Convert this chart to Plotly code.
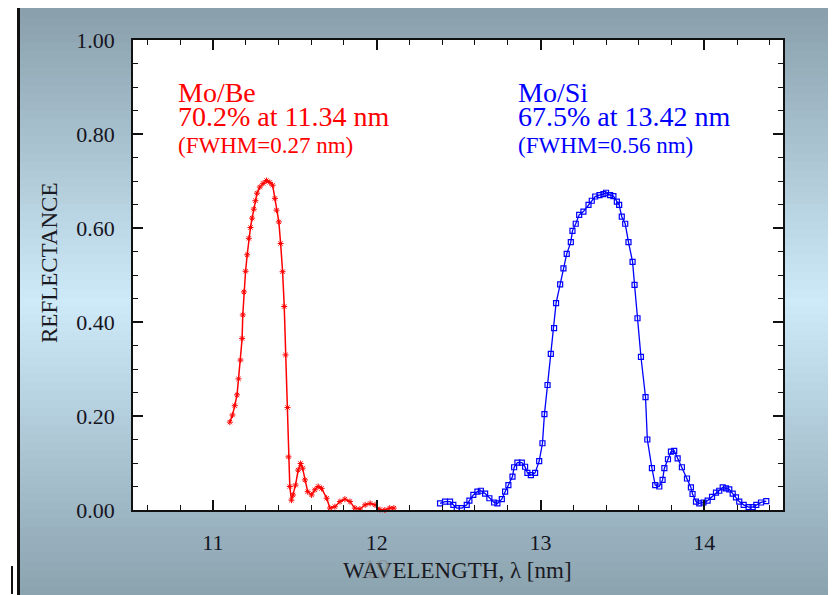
import plotly.graph_objects as go

# ---------------- data ----------------
mobe_wl = [11.104, 11.12, 11.134, 11.148, 11.157, 11.169, 11.179, 11.183, 11.19, 11.20,
           11.21, 11.22, 11.23, 11.24, 11.25, 11.26, 11.27, 11.287, 11.307, 11.328,
           11.348, 11.365, 11.379, 11.389, 11.403, 11.414, 11.426, 11.436, 11.444, 11.456,
           11.462, 11.47, 11.48, 11.49, 11.505, 11.521, 11.536, 11.548, 11.562, 11.579,
           11.603, 11.623, 11.643, 11.664, 11.695, 11.715, 11.745, 11.776, 11.806, 11.837,
           11.867, 11.898, 11.93, 11.96, 11.99, 12.02, 12.05, 12.08, 12.105]
mobe_r = [0.187, 0.202, 0.222, 0.245, 0.279, 0.319, 0.365, 0.415, 0.464, 0.508,
          0.543, 0.578, 0.601, 0.621, 0.640, 0.658, 0.674, 0.687, 0.695, 0.701,
          0.697, 0.691, 0.663, 0.638, 0.613, 0.567, 0.507, 0.433, 0.33, 0.218,
          0.113, 0.05, 0.021, 0.032, 0.053, 0.085, 0.099, 0.089, 0.064, 0.039,
          0.032, 0.043, 0.05, 0.046, 0.025, 0.004, 0.007, 0.018, 0.023, 0.018,
          0.004, 0.002, 0.011, 0.014, 0.011, 0.001, 0.0, 0.004, 0.004]

mosi_wl = [12.387, 12.417, 12.448, 12.468, 12.489, 12.52, 12.55, 12.566, 12.59, 12.615,
           12.636, 12.662, 12.688, 12.717, 12.737, 12.764, 12.784, 12.804, 12.829, 12.839,
           12.859, 12.886, 12.906, 12.92, 12.941, 12.967, 12.992, 13.012, 13.024, 13.043,
           13.063, 13.083, 13.095, 13.12, 13.14, 13.16, 13.185, 13.195, 13.215, 13.236,
           13.262, 13.293, 13.313, 13.334, 13.36, 13.384, 13.40, 13.425, 13.445, 13.466,
           13.48, 13.496, 13.517, 13.537, 13.562, 13.574, 13.592, 13.613, 13.641, 13.652,
           13.68, 13.70, 13.725, 13.745, 13.756, 13.778, 13.796, 13.816, 13.837, 13.863,
           13.894, 13.918, 13.928, 13.949, 13.969, 13.995, 14.02, 14.047, 14.071, 14.091,
           14.112, 14.132, 14.152, 14.173, 14.193, 14.213, 14.24, 14.27, 14.295, 14.317,
           14.346, 14.378]
mosi_r = [0.014, 0.018, 0.018, 0.011, 0.004, 0.004, 0.011, 0.02, 0.032, 0.039,
          0.041, 0.035, 0.025, 0.016, 0.014, 0.023, 0.039, 0.053, 0.071, 0.091,
          0.101, 0.101, 0.092, 0.079, 0.074, 0.079, 0.104, 0.142, 0.204, 0.266,
          0.332, 0.387, 0.44, 0.48, 0.514, 0.545, 0.57, 0.594, 0.609, 0.628,
          0.635, 0.649, 0.658, 0.667, 0.670, 0.672, 0.675, 0.670, 0.668, 0.656,
          0.649, 0.624, 0.609, 0.57, 0.528, 0.479, 0.408, 0.326, 0.24, 0.15,
          0.089, 0.053, 0.05, 0.064, 0.089, 0.108, 0.124, 0.126, 0.110, 0.091,
          0.067, 0.048, 0.034, 0.018, 0.014, 0.016, 0.02, 0.028, 0.037, 0.041,
          0.048, 0.046, 0.044, 0.035, 0.027, 0.018, 0.011, 0.006, 0.006, 0.011,
          0.016, 0.019]

x_ticks = [11, 12, 13, 14]
y_ticks = [0.0, 0.2, 0.4, 0.6, 0.8, 1.0]

mobe_lines = ["Mo/Be", "70.2% at 11.34 nm", "(FWHM=0.27 nm)"]
mosi_lines = ["Mo/Si", "67.5% at 13.42 nm", "(FWHM=0.56 nm)"]

# ---------------- layout geometry (screen pixels) ----------------
SW, SH = 836, 595          # window size
OFF = 8                    # page body margin
W, H = SW - OFF, SH - OFF  # figure size
L, R, T, B = 133, 783, 40, 510   # plot box in screen pixels
pw, ph = R - L, B - T


def px(xp):
    return (xp - L) / pw


def py(yp):
    return (B - yp) / ph


FONT = "Liberation Serif, Times New Roman, serif"
RED = "#ff0000"
BLUE = "#0000ff"

fig = go.Figure()
fig.add_trace(go.Scatter(
    x=mobe_wl, y=mobe_r, mode="lines+markers", name="Mo/Be",
    line=dict(color=RED, width=1.5),
    marker=dict(symbol="asterisk-open", size=5, line=dict(color=RED, width=1)),
    cliponaxis=False, showlegend=False))
fig.add_trace(go.Scatter(
    x=mosi_wl, y=mosi_r, mode="lines+markers", name="Mo/Si",
    line=dict(color=BLUE, width=1.3),
    marker=dict(symbol="square-open", size=5, color=BLUE, line=dict(color=BLUE, width=1.2)),
    cliponaxis=False, showlegend=False))

# ---------------- background gradient ----------------
stops = [(0, (135, 157, 169)), (300, (206, 234, 249)), (595, (139, 162, 175))]


def col_at(yp):
    for (y0, c0), (y1, c1) in zip(stops[:-1], stops[1:]):
        if y0 <= yp <= y1:
            t = (yp - y0) / (y1 - y0)
            return tuple(round(a + (b - a) * t) for a, b in zip(c0, c1))
    return stops[-1][1]


shapes = []
n = 70
step = SH / n
for i in range(n):
    y0p = i * step
    y1p = (i + 1) * step + 0.6
    c = col_at((y0p + y1p) / 2)
    shapes.append(dict(type="rect", xref="paper", yref="paper", layer="below",
                       x0=px(18), x1=px(SW + 2), y0=py(min(y1p, SH + 2)), y1=py(max(y0p, 5)),
                       fillcolor="rgb(%d,%d,%d)" % c, line=dict(width=0)))
# white plot area
shapes.append(dict(type="rect", xref="paper", yref="paper", layer="below",
                   x0=0, x1=1, y0=0, y1=1, fillcolor="white", line=dict(width=0)))
# frame lines
shapes.append(dict(type="line", xref="paper", yref="paper", x0=px(17), x1=px(SW + 2),
                   y0=py(5.5), y1=py(5.5), line=dict(color="#111", width=3)))
shapes.append(dict(type="line", xref="paper", yref="paper", x0=px(18.5), x1=px(18.5),
                   y0=py(4), y1=py(SH + 2), line=dict(color="#111", width=3)))
shapes.append(dict(type="line", xref="paper", yref="paper", x0=px(12), x1=px(12),
                   y0=py(566), y1=py(594), line=dict(color="#111", width=2)))

# ---------------- annotations ----------------
ann = []
sizes = [28, 28, 23]
ycent = [92, 117, 145]
for lines, xp, c in [(mobe_lines, 176, RED), (mosi_lines, 516, BLUE)]:
    for txt, s, yc in zip(lines, sizes, ycent):
        ann.append(dict(text=txt, xref="paper", yref="paper", x=px(xp), y=py(yc),
                        xanchor="left", yanchor="middle", showarrow=False,
                        font=dict(family=FONT, size=s, color=c)))
ann.append(dict(text="WAVELENGTH, λ [nm]", xref="paper", yref="paper", x=px(457), y=py(570),
                xanchor="center", yanchor="middle", showarrow=False,
                font=dict(family=FONT, size=23, color="#1a1a22")))
ann.append(dict(text="19", xref="paper", yref="paper", x=px(376), y=py(569),
                xanchor="center", yanchor="middle", showarrow=False, opacity=0.45,
                font=dict(family=FONT, size=27, color="#808080")))
ann.append(dict(text="REFLECTANCE", xref="paper", yref="paper", x=px(50), y=py(263),
                xanchor="center", yanchor="middle", showarrow=False, textangle=-90,
                font=dict(family=FONT, size=23, color="#1a1a22")))

axis_common = dict(showline=True, linecolor="#111", linewidth=1.5, mirror="ticks",
                   ticks="inside", tickcolor="#111", tickwidth=1.5, ticklen=10,
                   showgrid=False, zeroline=False,
                   tickfont=dict(family=FONT, size=22, color="#15151f"))

fig.update_layout(
    width=W, height=H,
    margin=dict(l=L - OFF, r=SW - R, t=T - OFF, b=SH - B, pad=0),
    paper_bgcolor="white", plot_bgcolor="white",
    shapes=shapes, annotations=ann,
    xaxis=dict(range=[10.513, 14.48], tickvals=x_ticks, ticklabelstandoff=12,
               minor=dict(dtick=0.2, tick0=11, ticks="inside", ticklen=5,
                          tickcolor="#111", tickwidth=1.3), **axis_common),
    yaxis=dict(range=[0, 1], tickvals=y_ticks, tickformat=".2f", ticklabelstandoff=12,
               minor=dict(dtick=0.05, tick0=0, ticks="inside", ticklen=5,
                          tickcolor="#111", tickwidth=1.3), **axis_common),
)

fig.write_html("out.html")
